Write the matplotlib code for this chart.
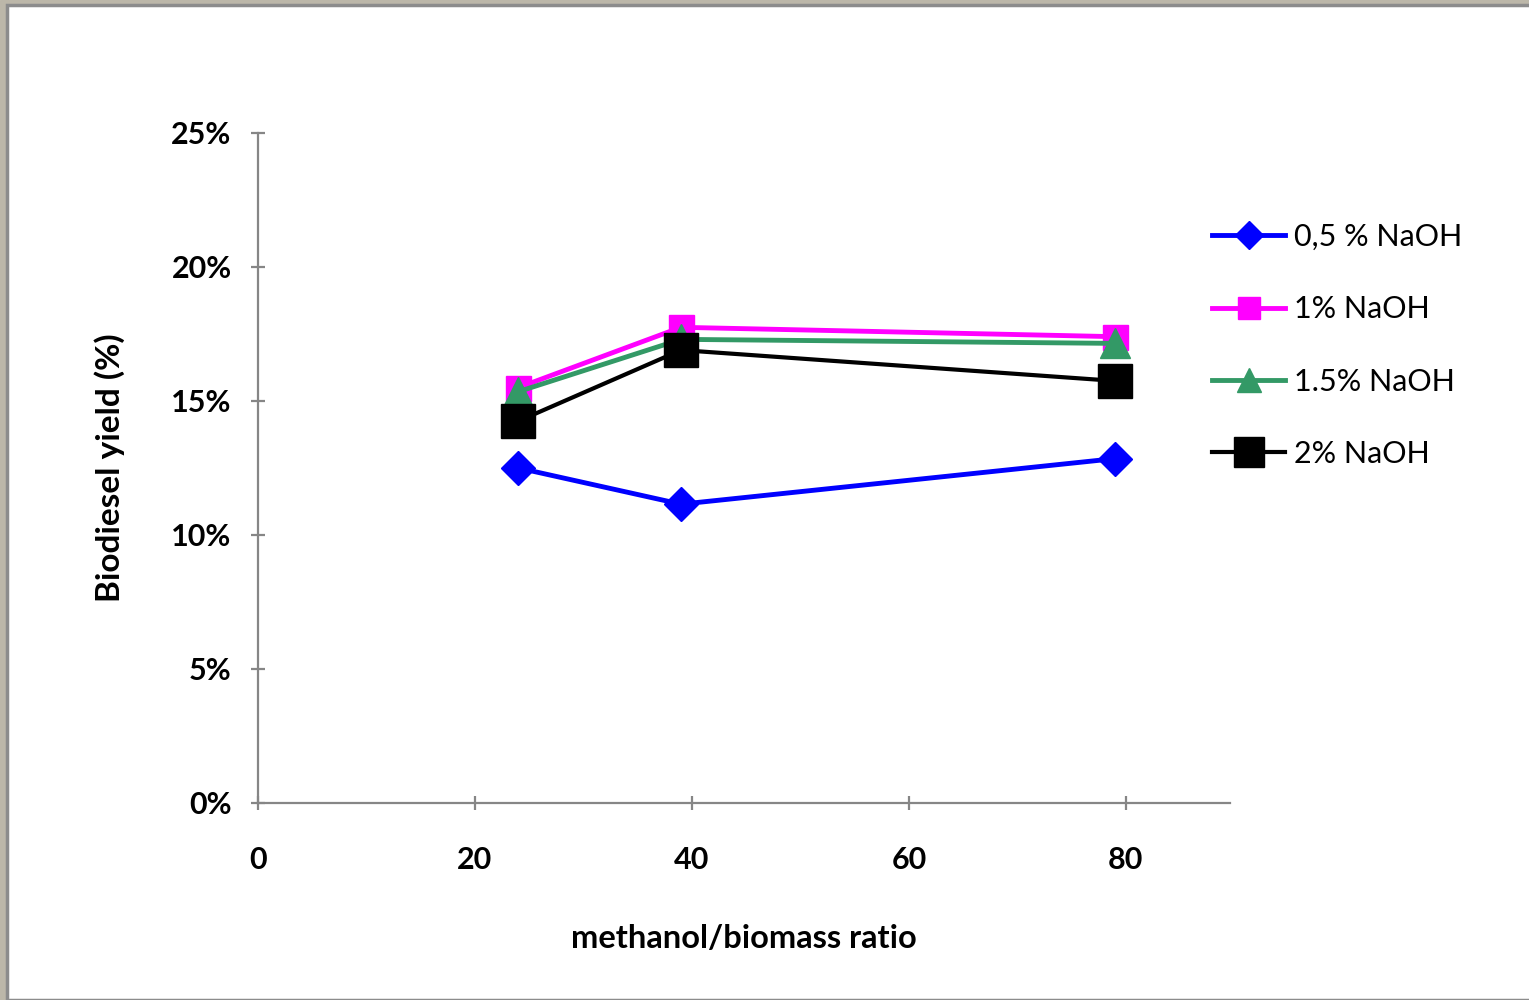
import matplotlib.pyplot as plt
from matplotlib.patches import Rectangle
from matplotlib.ticker import FuncFormatter

ratio = [24, 39, 79]
naoh_05 = [12.5, 11.15, 12.85]
naoh_1 = [15.5, 17.75, 17.4]
naoh_15 = [15.35, 17.3, 17.15]
naoh_2 = [14.25, 16.9, 15.75]
labels = ['0,5 % NaOH', '1% NaOH', '1.5% NaOH', '2% NaOH']

plt.rcParams['font.family'] = ['Lato', 'DejaVu Sans']

fig = plt.figure(figsize=(15.29, 10), dpi=100)
# screenshot frame
fig.add_artist(Rectangle((0, 0), 1, 1, transform=fig.transFigure, color='#bcb7a9', zorder=-3))
fig.add_artist(Rectangle((7 / 1529, 0), 1, 1 - 5 / 1000, transform=fig.transFigure,
                         facecolor='white', edgecolor='#8c8c8c', linewidth=2.5, zorder=-2))

ax = fig.add_axes([258 / 1529, 1 - 803 / 1000, (1230 - 258) / 1529, (803 - 133) / 1000])
ax.set_facecolor('none')

ax.plot(ratio, naoh_05, color='#0000ff', lw=3.5, marker='D', ms=17, label=labels[0])
ax.plot(ratio, naoh_1, color='#ff00ff', lw=3.5, marker='s', ms=18, label=labels[1])
ax.plot(ratio, naoh_15, color='#339966', lw=3.5, marker='^', ms=21, label=labels[2])
ax.plot(ratio, naoh_2, color='#000000', lw=3.0, marker='s', ms=25, label=labels[3])

ax.set_xlim(0, 89.6)
ax.set_ylim(0, 25)
ax.set_xticks([0, 20, 40, 60, 80])
ax.set_yticks([0, 5, 10, 15, 20, 25])
ax.yaxis.set_major_formatter(FuncFormatter(lambda v, p: '%d%%' % v))
for s in ['top', 'right']:
    ax.spines[s].set_visible(False)
for s in ['left', 'bottom']:
    ax.spines[s].set_color('#868686')
    ax.spines[s].set_linewidth(1.6)
ax.tick_params(direction='inout', length=10, width=1.6, color='#868686',
               labelsize=22, pad=14)
for t in ax.get_xticklabels() + ax.get_yticklabels():
    t.set_fontweight('bold')
ax.tick_params(axis='x', pad=26)

ax.set_xlabel('methanol/biomass ratio', fontsize=23.5, fontweight='bold', labelpad=36)
ax.set_ylabel('Biodiesel yield (%)', fontsize=24, fontweight='bold', labelpad=33)

leg = ax.legend(loc='upper left', bbox_to_anchor=(1212 / 1529, 1 - 223 / 1000),
                bbox_transform=fig.transFigure, frameon=False, fontsize=22,
                borderpad=0, borderaxespad=0,
                handlelength=2.4, handletextpad=0.3, labelspacing=1.45,
                markerscale=0.85)

plt.savefig('out.png', dpi=100)
